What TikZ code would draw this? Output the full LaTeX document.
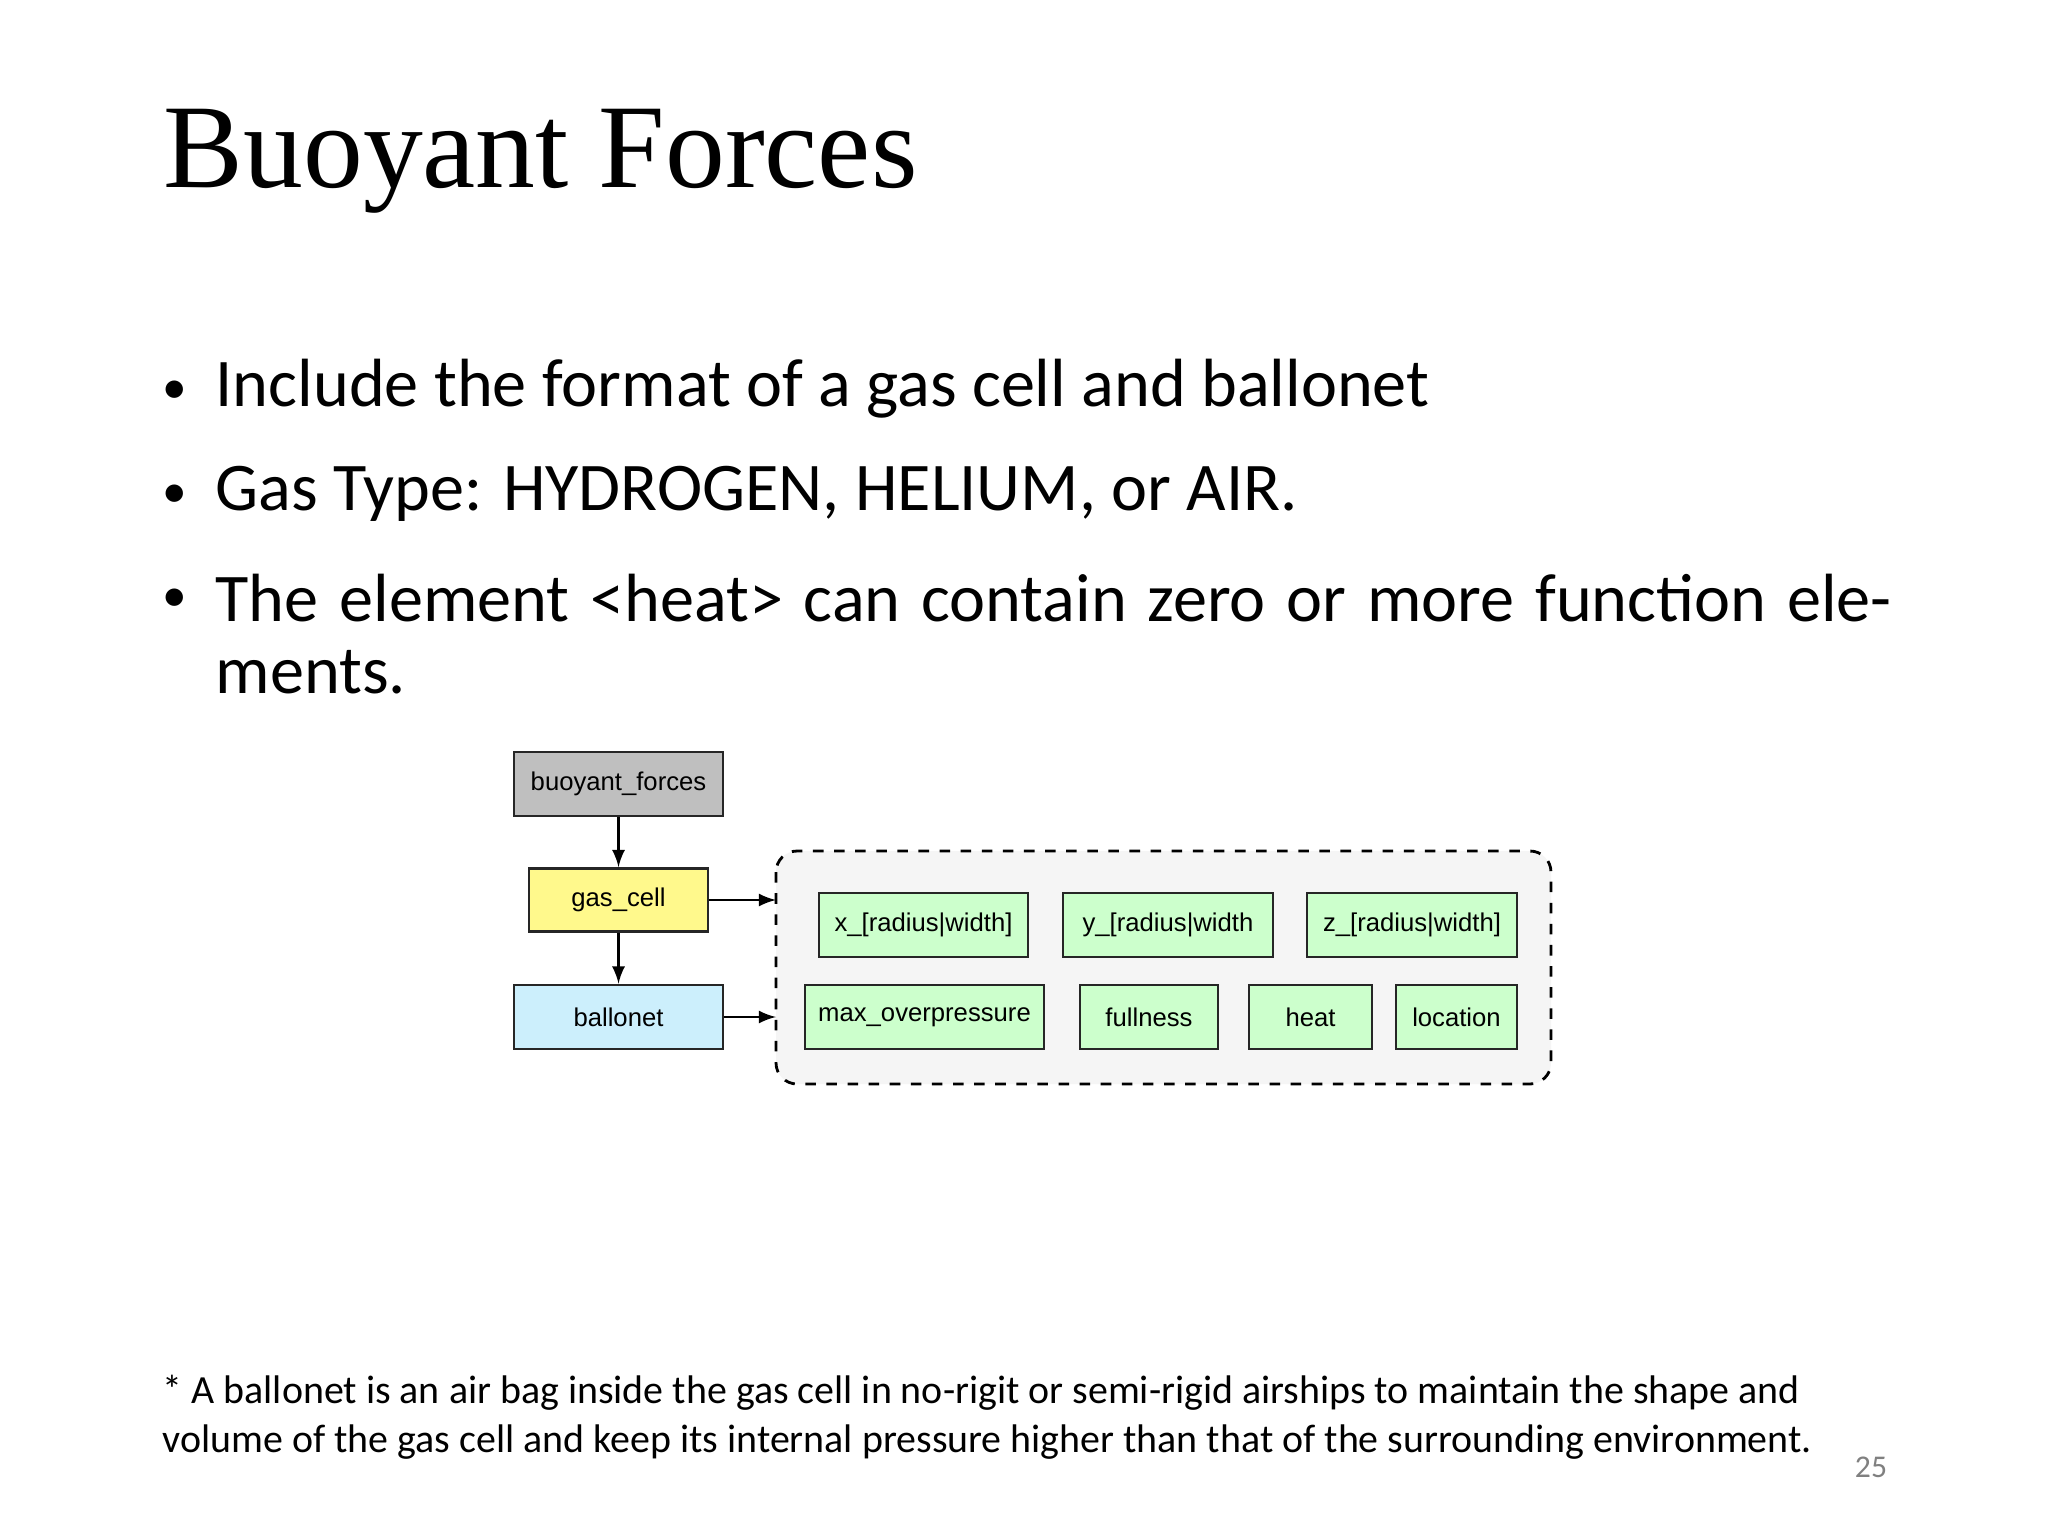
\documentclass[tikz,border=0pt]{standalone}
\usepackage{fontspec}
\setmainfont{Carlito}
\newfontfamily\titlefont{Liberation Serif}
\newfontfamily\diafont{Liberation Sans}
\begin{document}
\begin{tikzpicture}[x=0.01cm,y=-0.01cm,
  bx/.style={draw=black!85,line width=0.8pt,inner sep=0pt,font=\diafont\fontsize{7.3}{8}\selectfont},
  grn/.style={bx,fill=green!20},
  btxt/.style={anchor=base west,inner sep=0pt,font=\fontsize{19.4}{22.4}\selectfont},
  bul/.style={anchor=base,inner sep=0pt,font=\fontsize{14}{16}\selectfont},
  arr/.style={-latex,line width=0.7pt}]
\useasboundingbox[fill=white] (0,0) rectangle (2048,1536);
\node[anchor=base west,inner sep=0pt,font=\titlefont\fontsize{34}{38}\selectfont] (title) at (163,187) {Buoyant Forces};
\node[bul] (u1) at (175,403) {\textbullet};
\node[btxt] (b1) at (215,406) {Include the format of a gas cell and ballonet};
\node[bul] (u2) at (175,507) {\textbullet};
\node[btxt] (b2) at (215,510) {Gas Type: HYDROGEN, HELIUM, or AIR.};
\node[bul] (u3) at (175,611) {\textbullet};
\node[anchor=north west,inner sep=0pt,font=\fontsize{19.4}{20.6}\selectfont,text width=16.75cm,align=justify] (b3) at (215,573) {\hyphenpenalty=10000 The element {<}heat{>} can contain zero or more function elements.};
\node[anchor=base west,inner sep=0pt,font=\fontsize{11.35}{13.7}\selectfont,align=left] (fn) at (162,1452) {* A ballonet is an air bag inside the gas cell in no-rigit or semi-rigid airships to maintain the shape and\\volume of the gas cell and keep its internal pressure higher than that of the surrounding environment.};
\node[anchor=base,inner sep=0pt,font=\fontsize{9}{10}\selectfont,text=black!50] (pg) at (1871,1477) {25};

\begin{scope}[yshift=0.09cm]
\draw[dashed,rounded corners=6pt,fill=black!4,line width=0.8pt] (776,860) rectangle (1551,1093);
\coordinate (in1) at (776,909);
\coordinate (in2) at (776,1026);

\node[bx,fill=black!25,minimum width=2.09cm,minimum height=0.64cm] (bf) at (618.5,793) {buoyant\_forces};
\node[bx,fill=yellow!45,minimum width=1.79cm,minimum height=0.63cm] (gc) at (618.5,909) {gas\_cell};
\node[bx,fill=cyan!20,minimum width=2.09cm,minimum height=0.64cm] (bn) at (618.5,1026) {ballonet};
\node[grn,minimum width=2.09cm,minimum height=0.64cm] (x) at (923.5,934) {x\_[radius|width]};
\node[grn,minimum width=2.10cm,minimum height=0.64cm] (y) at (1168,934) {y\_[radius|width};
\node[grn,minimum width=2.10cm,minimum height=0.64cm] (z) at (1412,934) {z\_[radius|width]};
\node[grn,minimum width=2.39cm,minimum height=0.64cm] (mo) at (924.5,1026) {max\_overpressure};
\node[grn,minimum width=1.38cm,minimum height=0.64cm] (fu) at (1149,1026) {fullness};
\node[grn,minimum width=1.23cm,minimum height=0.64cm] (he) at (1310.5,1026) {heat};
\node[grn,minimum width=1.21cm,minimum height=0.64cm] (lo) at (1456.5,1026) {location};

\draw[arr] (bf) -- (gc);
\draw[arr] (gc) -- (bn);
\draw[arr] (gc.east) -- (in1);
\draw[arr] (bn.east) -- (in2);
\end{scope}
\end{tikzpicture}
\end{document}
